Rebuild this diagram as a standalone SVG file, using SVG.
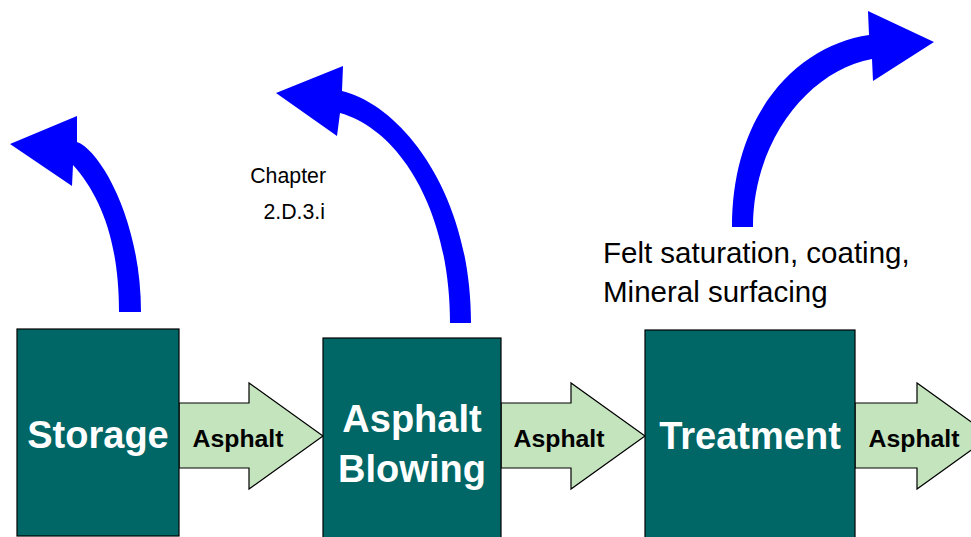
<svg xmlns="http://www.w3.org/2000/svg" width="971" height="537" viewBox="0 0 971 537">
<style>
.box{fill:#006666;stroke:#000;stroke-width:1.2}
.flow{fill:#C4E4BE;stroke:#000;stroke-width:1.2;stroke-linejoin:miter}
.curve{fill:#0000FF;stroke:none}
.bt{font-family:"Liberation Sans",Arial,sans-serif;font-weight:bold;fill:#fff;font-size:38px;text-anchor:middle}
.ft{font-family:"Liberation Sans",Arial,sans-serif;font-weight:bold;fill:#000;font-size:24.8px;text-anchor:middle}
.lt{font-family:"Liberation Sans",Arial,sans-serif;fill:#000}
</style>
<rect width="971" height="537" fill="#fff"/>
<g id="connectors">
  <g id="flow1"><path class="flow" d="M179,403 H249 V383 L323,436 L249,489 V468 H179 Z"/><text class="ft" x="238" y="447">Asphalt</text></g>
  <g id="flow2"><path class="flow" d="M501,403 H571 V383 L645,436 L571,489 V468 H501 Z"/><text class="ft" x="559" y="447">Asphalt</text></g>
  <g id="flow3"><path class="flow" d="M855,403 H917 V383 L991,436 L917,489 V468 H855 Z"/><text class="ft" x="914" y="447">Asphalt</text></g>
  <path id="out1" class="curve" d="M141,312 H119 C119,240 100,195 73,165 L72,186 L10,144 L77,116 L77,142 C100,150 141,220 141,312 Z"/>
  <path id="out2" class="curve" d="M471,323 H450 C450,210 400,130 340,113 L337,136 L276,93 L343,66 L342,91 C400,105 471,190 471,323 Z"/>
  <path id="out3" class="curve" d="M732,227 H753 C753,140 810,70 872,59 L873,81 L934,42 L868,11 L869,35 C800,45 732,110 732,227 Z"/>
</g>
<g id="storage"><rect class="box" x="17" y="329" width="162" height="207"/><text class="bt" x="98" y="448">Storage</text></g>
<g id="blowing"><rect class="box" x="323" y="338" width="178" height="205"/><text class="bt" x="412" y="432">Asphalt</text><text class="bt" x="412" y="482">Blowing</text></g>
<g id="treatment"><rect class="box" x="645" y="330" width="210" height="213"/><text class="bt" x="750" y="449">Treatment</text></g>
<g id="labels">
  <text class="lt" font-size="21.3" text-anchor="end" x="326" y="183">Chapter</text>
  <text class="lt" font-size="21.3" text-anchor="end" x="325" y="219">2.D.3.i</text>
  <text class="lt" font-size="29.5" x="603" y="263">Felt saturation, coating,</text>
  <text class="lt" font-size="29.5" x="603" y="302">Mineral surfacing</text>
</g>
</svg>
